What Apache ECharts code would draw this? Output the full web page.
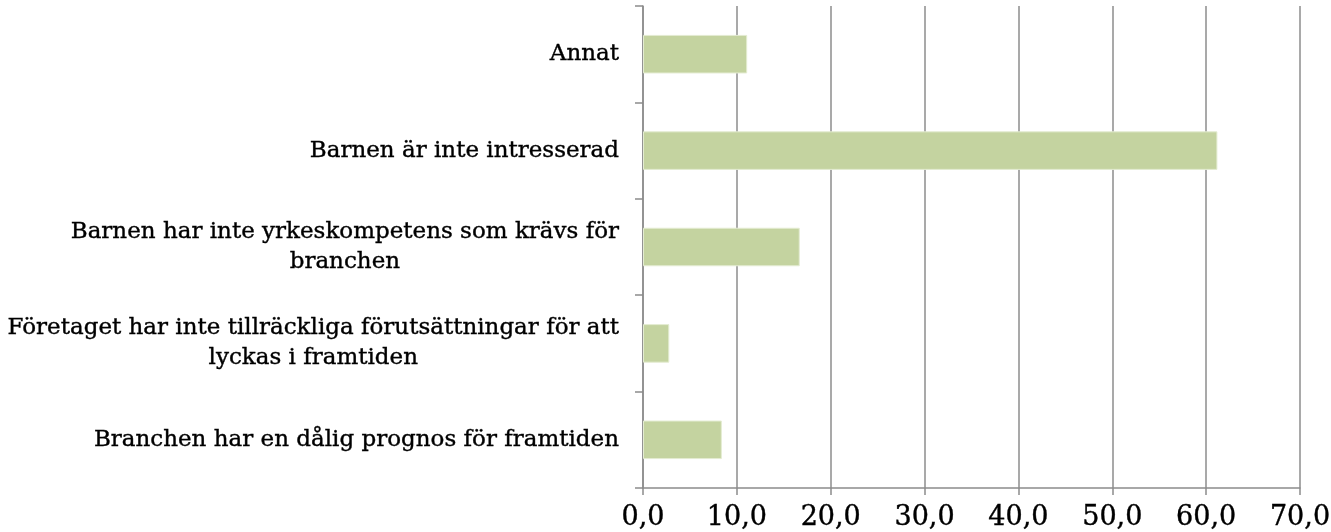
<!DOCTYPE html>
<html>
<head>
<meta charset="utf-8">
<script src="https://cdn.jsdelivr.net/npm/echarts@6/dist/echarts.min.js"></script>
<style>
  html, body { margin: 0; padding: 0; background: #fff; }
  #chart { width: 1331px; height: 532px; }
</style>
</head>
<body>
<div id="chart"></div>
<script>
// categories bottom -> top (ECharts category axis goes upward)
const categories = [
  "Branchen har en dålig prognos för framtiden",
  "Företaget har inte tillräckliga förutsättningar för att\nlyckas i framtiden",
  "Barnen har inte yrkeskompetens som krävs för\nbranchen",
  "Barnen är inte intresserad",
  "Annat"
];
const values = [8.4, 2.8, 16.7, 61.2, 11.1];
const xTicks = [0, 10, 20, 30, 40, 50, 60, 70];

const fontFam = "DejaVu Serif";
const gridColor = "#8c8c8c";

const chart = echarts.init(document.getElementById("chart"));
chart.setOption({
  animation: false,
  grid: { left: 643, right: 31, top: 6, bottom: 44, containLabel: false, outerBoundsMode: "none" },
  xAxis: {
    type: "value",
    min: xTicks[0],
    max: xTicks[xTicks.length - 1],
    interval: 10,
    axisLine: { show: true, lineStyle: { color: gridColor, width: 1.5 } },
    axisTick: { show: true, length: 7, lineStyle: { color: gridColor, width: 1.5 } },
    splitLine: { show: true, lineStyle: { color: gridColor, width: 1.5 } },
    axisLabel: {
      margin: 16,
      color: "#000",
      fontFamily: fontFam,
      fontSize: 27,
      textBorderColor: "#000",
      textBorderWidth: 0.4,
      formatter: v => v.toFixed(1).replace(".", ",")
    }
  },
  yAxis: {
    type: "category",
    data: categories,
    axisLine: { show: true, lineStyle: { color: gridColor, width: 1.5 } },
    axisTick: { show: true, length: 8, lineStyle: { color: gridColor, width: 1.5 } },
    axisLabel: {
      margin: 24,
      color: "#000",
      fontFamily: fontFam,
      fontSize: 23,
      lineHeight: 30,
      align: "right",
      formatter: v => v.split("\n").map(s => "{c|" + s + "}").join("\n"),
      rich: {
        c: {
          align: "center", fontFamily: fontFam, fontSize: 23, lineHeight: 30, color: "#000",
          textBorderColor: "#000", textBorderWidth: 0.4
        }
      }
    }
  },
  series: [{
    type: "bar",
    data: values,
    barCategoryGap: "60%",
    itemStyle: { color: "#c4d3a0", borderColor: "#e4ecd2", borderWidth: 1 }
  }]
});
</script>
</body>
</html>
